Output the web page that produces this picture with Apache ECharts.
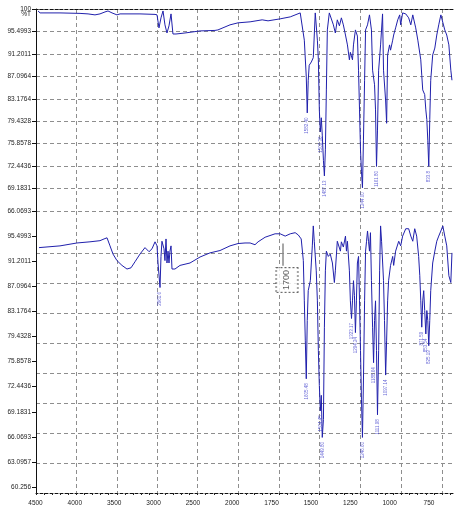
<!DOCTYPE html>
<html>
<head>
<meta charset="utf-8">
<script src="https://cdn.jsdelivr.net/npm/echarts@6.0.0/dist/echarts.min.js"></script>
<style>html,body{margin:0;padding:0;background:#fff}#c{width:454px;height:509px}</style>
</head>
<body>
<div id="c"></div>
<script>
// ---- tick labels ----
const xTickLabels = ['4500','4000','3500','3000','2500','2000','1750','1500','1250','1000','750'];
const yTickLabelsTop = ['100','95.4993','91.2011','87.0964','83.1764','79.4328','75.8578','72.4436','69.1831','66.0693'];
const yTickLabelsBottom = ['95.4993','91.2011','87.0964','83.1764','79.4328','75.8578','72.4436','69.1831','66.0693','63.0957','60.256'];
const bottomGridLineSteps = [1,2,3,4,5,6,7,8];

// ---- top spectrum (wavenumber cm-1, %T) ----
const topWave = [4475,4450,4203,3955,3856,3770,3708,3646,3609,3559,3498,3460,3213,3027,3002,2978,2953,2928,2904,2879,2854,2829,2805,2767,2656,2470,2285,2248,2099,2000,1926,1852,1816,1742,1680,1619,1607,1594,1582,1576,1570,1564,1551,1539,1527,1514,1508,1502,1496,1490,1484,1477,1471,1465,1459,1453,1441,1429,1416,1404,1392,1379,1367,1355,1342,1330,1318,1312,1299,1293,1281,1269,1262,1256,1250,1244,1238,1232,1225,1219,1207,1195,1183,1176,1164,1158,1152,1146,1139,1127,1115,1109,1096,1090,1084,1072,1066,1053,1047,1035,1022,1010,1004,992,973,955,942,930,912,899,881,875,869,857,850,844,838,832,826,820,808,795,783,771,758,746,734,722,709,697,690];
const topT = [99.6,99.2,99.2,99.1,99.0,98.8,99.0,99.4,99.6,99.2,98.8,99.0,99.0,98.9,98.8,96.2,98.2,99.6,96.8,95.2,96.6,99.0,95.0,95.0,95.2,95.6,95.7,95.8,96.8,97.2,97.4,97.8,97.6,98.0,98.4,99.2,99.2,93.8,87.0,80.8,86.4,89.1,89.7,90.5,99.2,93.8,90.1,81.3,77.7,80.0,77.2,73.3,71.0,74.9,84.7,95.8,99.2,98.8,96.8,95.2,97.8,96.6,98.2,96.8,94.8,92.9,90.1,91.5,90.1,92.9,95.8,94.6,88.2,81.3,74.9,71.6,69.3,76.4,86.4,95.8,96.8,98.8,95.8,88.2,85.6,81.3,72.4,78.0,88.2,92.9,99.0,88.2,82.8,79.1,91.0,92.9,91.9,93.8,94.8,96.2,97.8,98.8,96.8,99.2,99.0,98.2,96.8,98.8,96.2,93.8,90.1,87.3,84.7,83.9,81.3,79.7,76.4,72.4,79.7,86.4,91.0,92.3,94.8,96.8,98.8,99.0,95.8,94.8,92.9,88.2,86.4];

// ---- bottom spectrum (wavenumber cm-1, %T) ----
const botWave = [4463,4203,3993,3832,3708,3658,3621,3584,3547,3498,3436,3374,3324,3275,3213,3151,3101,3064,3027,3002,2990,2965,2953,2941,2916,2904,2891,2879,2866,2854,2842,2829,2817,2780,2718,2594,2470,2347,2223,2099,2000,1957,1926,1896,1877,1834,1773,1742,1711,1680,1650,1631,1613,1600,1594,1588,1582,1576,1570,1557,1551,1545,1539,1533,1521,1514,1508,1502,1496,1490,1484,1477,1471,1465,1459,1447,1435,1422,1410,1404,1392,1373,1367,1355,1342,1336,1330,1318,1312,1305,1299,1293,1287,1281,1275,1269,1262,1256,1250,1244,1238,1232,1225,1219,1213,1207,1201,1195,1189,1183,1176,1170,1164,1158,1152,1146,1139,1133,1127,1121,1109,1103,1096,1090,1084,1078,1066,1053,1047,1035,1016,1004,992,973,955,942,930,918,906,894,887,881,875,869,863,857,850,844,838,832,826,820,808,795,783,771,758,746,734,722,709,697,690];
const botT = [93.5,93.8,94.3,94.5,94.7,95.0,95.2,93.8,92.4,91.3,90.5,89.9,90.1,91.1,92.4,93.5,92.8,93.3,94.5,93.8,90.9,86.9,92.0,94.6,93.3,91.3,95.0,90.9,92.9,90.9,92.9,93.8,89.9,89.9,90.5,90.9,91.9,92.6,93.0,93.8,94.2,94.3,94.3,94.0,94.5,95.3,95.9,95.9,95.5,95.9,96.1,95.7,95.0,91.3,84.8,78.9,73.5,81.8,86.4,88.0,90.9,93.8,97.3,94.6,89.6,84.8,77.4,72.6,69.3,71.3,66.0,68.2,80.8,89.6,92.9,92.0,92.4,90.9,87.7,89.6,94.6,92.9,94.5,93.6,95.5,92.9,94.6,89.6,84.8,82.1,84.8,88.0,85.6,80.0,84.8,90.9,92.0,84.8,77.4,70.7,66.0,73.2,84.8,92.9,94.6,96.4,94.6,92.9,96.1,88.0,80.8,75.7,81.8,84.8,77.4,68.8,77.4,89.6,97.3,94.6,88.0,81.8,74.0,78.9,84.8,88.0,90.5,92.0,90.5,92.9,94.6,93.8,95.5,96.8,96.8,95.5,94.6,96.8,95.5,92.0,88.8,84.8,80.8,84.8,86.4,83.3,79.8,83.3,81.8,78.1,81.8,86.4,90.9,92.9,94.6,95.5,96.4,97.3,95.5,93.8,88.8,87.7,92.6];

// ---- peak annotations ----
const topPeakWave = [1576,1496,1471,1238,1152,832];
const topPeakT = [80.8,77.7,71.0,69.3,72.4,72.4];
const topPeakText = ['1582.40','1509.36','1487.13','1244.00','1161.80','833.8'];
const botPeakWave = [2965,1582,1496,1484,1305,1281,1238,1170,1146,1096,875,850,832];
const botPeakT = [86.9,73.5,69.3,66.0,82.1,80.0,66.0,75.7,68.8,74.0,80.8,79.8,78.1];
const botPeakText = ['2961.6','1605.48','1504.45','1449.80','1323.17','1294.24','1246.60','1188.64','1111.98','1097.14','871.59','853.54','825.19'];

// boxed marker
const boxWave = [1700];
const boxT = [88.1];
const boxText = ['1700'];
const leaderWave = [1726, 1726];
const leaderT = [94.2, 90.45];

// ---- styles ----
const FONT = 'Liberation Sans, Arial, sans-serif';
const LINE = '#2020ac';
const PEAKC = '#3f3fcc';
const gridLine = {show:true, lineStyle:{color:'#8e8e8e', width:1, type:[4,3]}};
const dashedBlack = {show:true, onZero:false, lineStyle:{color:'#111', width:1, type:[3,2]}};

const zip = (w,t) => w.map((x,i)=>[x,t[i]]);
const zip3 = (w,t,s) => w.map((x,i)=>[x,t[i],s[i]]);
const leftPart = p => p.filter(d=>d[0]>=2000);
const rightPart = p => p.filter(d=>d[0]<=2000);

const topPts = zip(topWave, topT);
const botPts = zip(botWave, botT);
const topPeaks = zip3(topPeakWave, topPeakT, topPeakText);
const botPeaks = zip3(botPeakWave, botPeakT, botPeakText);

function nearest(v, arr){
  let best = arr[0], d = Infinity;
  arr.forEach(s => { const dd = Math.abs(parseFloat(s) - v); if (dd < d) { d = dd; best = s; } });
  return best;
}
const topVals = yTickLabelsTop.map(Number);
const botVals = yTickLabelsBottom.map(Number);

function xSeg(grid, left, pos, showTicks){
  return {
    gridIndex:grid, type:'value', inverse:true,
    min: left ? 2000 : 500, max: left ? 4500 : 2000, interval: left ? 500 : 250,
    position:pos,
    axisLine: dashedBlack,
    axisTick:{show:showTicks, length:2, lineStyle:{color:'#222'}},
    minorTick:{show:showTicks, splitNumber:5, length:2, lineStyle:{color:'#222'}},
    axisLabel:{show:false},
    splitLine: gridLine
  };
}

const peakLabel = {
  show:true, position:'bottom', distance:4, rotate:90, align:'right', verticalAlign:'middle',
  fontSize:4.5, fontFamily:FONT, color:PEAKC, formatter: p => p.value[2]
};
function peakSeries(x, y, data){
  return {type:'scatter', xAxisIndex:x, yAxisIndex:y, symbol:'circle', symbolSize:1,
    itemStyle:{color:'rgba(0,0,0,0)'}, silent:true, data:data, label:peakLabel, z:5};
}
function spec(x, y, data, extra){
  return Object.assign({type:'line', xAxisIndex:x, yAxisIndex:y, data:data, symbol:'none', showSymbol:false,
    silent:true, lineStyle:{color:LINE, width:1}, z:3}, extra||{});
}
const G = {outerBoundsMode:'none', containLabel:false};

const option = {
  animation:false,
  backgroundColor:'#fff',
  textStyle:{fontFamily:FONT},
  grid:[
    Object.assign({left:36, top:9, width:202, height:202}, G),
    Object.assign({left:238, top:9, width:245, height:202}, G),
    Object.assign({left:36, top:211, width:202, height:282}, G),
    Object.assign({left:238, top:211, width:245, height:282}, G),
    Object.assign({left:35.5, top:211, width:393.5, height:282}, G)
  ],
  xAxis:[
    xSeg(0, true, 'top', false),
    xSeg(1, false, 'top', false),
    xSeg(2, true, 'bottom', true),
    xSeg(3, false, 'bottom', true),
    {gridIndex:4, type:'category', data:xTickLabels, boundaryGap:false, position:'bottom',
      axisLine:{show:false}, axisTick:{show:false}, splitLine:{show:false},
      axisLabel:{interval:0, fontSize:6.5, margin:7, color:'#222', fontFamily:FONT}}
  ],
  yAxis:[
    {gridIndex:0, type:'log', logBase:10, min:66.0693, max:100, position:'left',
      axisLine:{show:true, onZero:false, lineStyle:{color:'#111', width:1}},
      axisTick:{show:true, length:4, customValues:topVals, lineStyle:{color:'#111'}},
      axisLabel:{show:true, customValues:topVals, fontSize:6.5, lineHeight:5.5, margin:5, color:'#222', fontFamily:FONT,
        formatter: v => { const s = nearest(v, yTickLabelsTop); return s === '100' ? '\n100\n%T' : s; }},
      splitLine: gridLine},
    {gridIndex:1, type:'log', logBase:10, min:66.0693, max:100, position:'left',
      axisLine:{show:false, onZero:false}, axisTick:{show:false, customValues:topVals}, axisLabel:{show:false},
      splitLine: gridLine},
    {gridIndex:2, type:'log', logBase:10, min:59.6, max:100, position:'left',
      axisLine:{show:true, onZero:false, lineStyle:{color:'#111', width:1}},
      axisTick:{show:true, length:4, customValues:botVals, lineStyle:{color:'#111'}},
      axisLabel:{show:true, customValues:botVals, fontSize:6.5, margin:5, color:'#222', fontFamily:FONT,
        formatter: v => nearest(v, yTickLabelsBottom)},
      splitLine:{show:false}},
    {gridIndex:3, type:'log', logBase:10, min:59.6, max:100, position:'left',
      axisLine:{show:false, onZero:false}, axisTick:{show:false}, axisLabel:{show:false}, splitLine:{show:false}},
    {gridIndex:2, type:'value', min:0, max:9.4, position:'right',
      axisLine:{show:false, onZero:false}, axisTick:{show:false, customValues:bottomGridLineSteps}, axisLabel:{show:false},
      splitLine: gridLine},
    {gridIndex:3, type:'value', min:0, max:9.4, position:'right',
      axisLine:{show:false, onZero:false}, axisTick:{show:false, customValues:bottomGridLineSteps}, axisLabel:{show:false},
      splitLine: gridLine},
    {gridIndex:4, type:'value', show:false}
  ],
  series:[
    spec(0, 0, leftPart(topPts)),
    spec(1, 1, rightPart(topPts)),
    spec(2, 2, leftPart(botPts)),
    spec(3, 3, rightPart(botPts), {
      markLine:{silent:true, symbol:['none','none'], animation:false, label:{show:false},
        lineStyle:{color:'#8a8a8a', width:1.5, type:'solid'},
        data:[[{coord:[leaderWave[0], leaderT[0]]},{coord:[leaderWave[1], leaderT[1]]}]]}
    }),
    peakSeries(1, 1, rightPart(topPeaks)),
    peakSeries(2, 2, leftPart(botPeaks)),
    peakSeries(3, 3, rightPart(botPeaks)),
    {type:'scatter', xAxisIndex:3, yAxisIndex:3, symbolSize:1, silent:true, z:6,
      itemStyle:{color:'rgba(0,0,0,0)'},
      data: zip3(boxWave, boxT, boxText),
      label:{show:true, position:'inside', rotate:90, fontSize:9, fontFamily:FONT, color:'#333',
        backgroundColor:'#fff', borderColor:'#444', borderWidth:1, borderType:'dotted',
        padding:[6,2,6,2], formatter: p => p.value[2]}}
  ]
};

const chart = echarts.init(document.getElementById('c'), null, {renderer:'canvas'});
chart.setOption(option);
</script>
</body>
</html>
